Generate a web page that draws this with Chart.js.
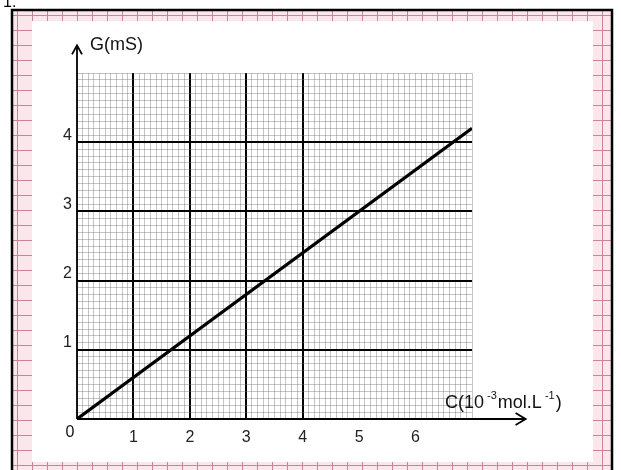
<!DOCTYPE html>
<html>
<head>
<meta charset="utf-8">
<script src="https://cdn.jsdelivr.net/npm/chart.js@4"></script>
<style>
  html, body { margin: 0; padding: 0; background: #fff; }
  #wrap { width: 621px; height: 470px; }
</style>
</head>
<body>
<div id="wrap"><canvas id="gChart" width="621" height="470"></canvas></div>
<script>
// G = f(C) : conductance vs concentration
const concentration = [0, 7];        // C (10^-3 mol.L^-1)
const conductance = [0, 4.2];        // G (mS)
const xTickLabels = ['1', '2', '3', '4', '5', '6'];
const yTickLabels = ['1', '2', '3', '4'];
const xMajorLines = [1, 2, 3, 4];
const yMajorLines = [1, 2, 3, 4];

const FONT = '"Liberation Sans", Arial, sans-serif';
const isWhole = v => Math.abs(v - Math.round(v)) < 1e-6;
const isMajor = (list, v) => list.some(m => Math.abs(m - v) < 1e-6);

// graph-paper frame, axes with arrows and the axis names
const framePlugin = {
  id: 'frame',
  beforeDraw(chart) {
    const c = chart.ctx;
    c.save();
    c.fillStyle = '#fbe6ec';
    c.fillRect(12, 10, 600, 460);
    c.strokeStyle = '#c98596';
    c.lineWidth = 1;
    for (let x = 17.5; x < 612; x += 15) {
      c.beginPath(); c.moveTo(x, 10); c.lineTo(x, 470); c.stroke();
    }
    for (let y = 15.5; y < 470; y += 15) {
      c.beginPath(); c.moveTo(12, y); c.lineTo(612, y); c.stroke();
    }
    c.fillStyle = '#fff';
    c.fillRect(32, 21, 561, 441);
    c.strokeStyle = '#000';
    c.lineWidth = 2.5;
    c.strokeRect(12, 10, 600, 462);
    c.fillStyle = '#000';
    c.font = '16px ' + FONT;
    c.textBaseline = 'alphabetic';
    c.fillText('1.', 3, 7);
    c.restore();
  },
  afterDatasetsDraw(chart) {
    const c = chart.ctx;
    const sx = chart.scales.x, sy = chart.scales.y;
    const x0 = sx.getPixelForValue(0), y0 = sy.getPixelForValue(0);
    const xEnd = sx.getPixelForValue(7.95), yEnd = sy.getPixelForValue(5.4);
    c.save();
    c.strokeStyle = '#000';
    c.lineWidth = 1.8;
    c.beginPath();
    c.moveTo(x0, y0); c.lineTo(xEnd, y0);
    c.moveTo(xEnd - 10, y0 - 6); c.lineTo(xEnd, y0); c.lineTo(xEnd - 10, y0 + 6);
    c.moveTo(x0, y0); c.lineTo(x0, yEnd);
    c.moveTo(x0 - 5, yEnd + 9); c.lineTo(x0, yEnd); c.lineTo(x0 + 5, yEnd + 9);
    c.stroke();

    c.fillStyle = '#111';
    c.textBaseline = 'middle';
    c.font = '18px ' + FONT;
    c.fillText('G(mS)', x0 + 13, yEnd);
    c.font = '16px ' + FONT;
    c.textAlign = 'center';
    c.fillText('0', x0 - 7, y0 + 14);

    // C(10^-3 mol.L^-1)
    c.textAlign = 'left';
    let tx = 445;
    const ty = 403;
    const big = '18px ' + FONT;
    const small = '11px ' + FONT;
    const parts = [['C(10', big, 0], [' -3', small, -7], ['mol.L', big, 0], [' -1', small, -7], [')', big, 0]];
    parts.forEach(([t, f, dy]) => {
      c.font = f;
      c.fillText(t, tx, ty + dy);
      tx += c.measureText(t).width + (f === small ? 1 : 0);
    });
    c.restore();
  }
};

const ctx = document.getElementById('gChart').getContext('2d');
const gChart = new Chart(ctx, {
  type: 'line',
  data: {
    datasets: [{
      label: 'G',
      data: concentration.map((c, i) => ({ x: c, y: conductance[i] })),
      borderColor: '#000',
      borderWidth: 3.2,
      pointRadius: 0,
      fill: false,
    }],
  },
  options: {
    responsive: false,
    animation: false,
    layout: { padding: { left: 27, right: 149, top: 73, bottom: 0 } },
    plugins: { legend: { display: false }, tooltip: { enabled: false } },
    scales: {
      x: {
        type: 'linear',
        min: 0, max: 7,
        afterFit: s => { s.height = 51; },
        border: { display: false },
        grid: {
          drawTicks: false,
          color: g => (isMajor(xMajorLines, g.tick.value) ? '#000' : 'rgba(110,110,110,0.4)'),
          lineWidth: g => (isMajor(xMajorLines, g.tick.value) ? 2 : 1),
        },
        ticks: {
          stepSize: 0.1,
          autoSkip: false,
          maxRotation: 0,
          padding: 9,
          color: '#222',
          font: { family: FONT, size: 16 },
          callback: v => (isWhole(v) && xTickLabels.includes(String(Math.round(v))) ? String(Math.round(v)) : ''),
        },
      },
      y: {
        type: 'linear',
        min: 0, max: 5,
        afterFit: s => { s.width = 50; },
        border: { display: false },
        grid: {
          drawTicks: false,
          color: g => (isMajor(yMajorLines, g.tick.value) ? '#000' : 'rgba(110,110,110,0.4)'),
          lineWidth: g => (isMajor(yMajorLines, g.tick.value) ? 2 : 1),
        },
        ticks: {
          stepSize: 0.1,
          autoSkip: false,
          padding: 5,
          labelOffset: -7,
          color: '#222',
          font: { family: FONT, size: 16 },
          callback: v => (isWhole(v) && yTickLabels.includes(String(Math.round(v))) ? String(Math.round(v)) : ''),
        },
      },
    },
  },
  plugins: [framePlugin],
});
</script>
</body>
</html>
